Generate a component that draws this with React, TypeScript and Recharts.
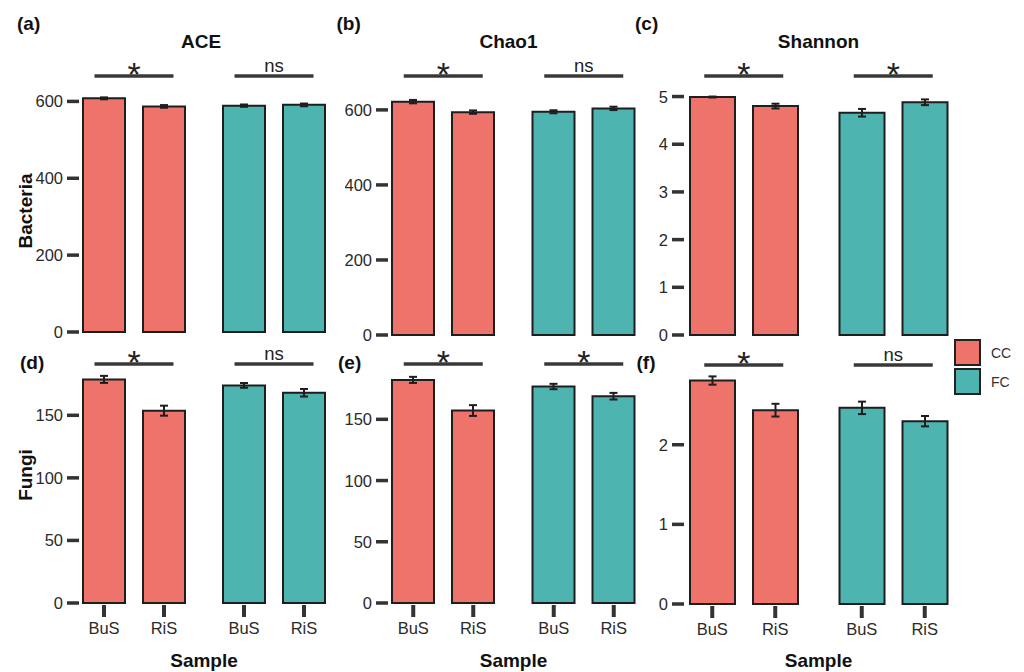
import { Bar, BarChart, Cell, ErrorBar, Legend, XAxis, YAxis } from "recharts";

const groups = ["CC", "FC"];
const samples = ["BuS", "RiS"];
const groupColors = ["#EE736B", "#4DB4B0"];

// value order in every list: CC-BuS, CC-RiS, FC-BuS, FC-RiS
const bacAceMean = [608, 587, 589, 591];
const bacAceSe = [2.5, 3.5, 3, 3.5];
const bacChaoMean = [622, 594, 595, 604];
const bacChaoSe = [4.5, 4.5, 4, 4.5];
const bacShannonMean = [4.99, 4.8, 4.66, 4.88];
const bacShannonSe = [0.01, 0.05, 0.08, 0.06];
const fungiAceMean = [178.7, 153.7, 173.9, 168];
const fungiAceSe = [2.8, 4, 1.9, 3];
const fungiChaoMean = [182.2, 157.2, 176.8, 168.9];
const fungiChaoSe = [2.5, 4.4, 2.2, 2.7];
const fungiShannonMean = [2.806, 2.434, 2.463, 2.296];
const fungiShannonSe = [0.052, 0.08, 0.078, 0.065];

// significance of BuS vs RiS within CC and FC
const bacAceSig = ["*", "ns"];
const bacChaoSig = ["*", "ns"];
const bacShannonSig = ["*", "*"];
const fungiAceSig = ["*", "ns"];
const fungiChaoSig = ["*", "*"];
const fungiShannonSig = ["*", "ns"];

const richBacTicks = [0, 200, 400, 600];
const shannonBacTicks = [0, 1, 2, 3, 4, 5];
const richFungiTicks = [0, 50, 100, 150];
const shannonFungiTicks = [0, 1, 2];

const FONT = '"Liberation Sans", Arial, sans-serif';
const INK = "#2a2a2a";
const BAR_GAP = 18;

function buildRows(mean: number[], se: number[]) {
	return groups.map((g, gi) => {
		const row: Record<string, number | string> = { group: g };
		samples.forEach((s, si) => {
			row[s] = mean[gi * 2 + si];
			row[`${s}Err`] = se[gi * 2 + si];
		});
		return row;
	});
}

function YTick({ x, y, payload }: any) {
	return (
		<g>
			<line x1={x + 3} x2={x + 15} y1={y} y2={y} stroke="#333" strokeWidth={3.5} />
			<text x={x - 1} y={y} dy={6} textAnchor="end" fontSize={16.5} fill={INK}>
				{payload.value}
			</text>
		</g>
	);
}

function SampleTick({ x, y, barSize }: any) {
	const step = barSize + BAR_GAP;
	return (
		<g>
			{samples.map((s, i) => {
				const cx = x + (i - 0.5) * step;
				return (
					<g key={s}>
						<line x1={cx} x2={cx} y1={y + 2} y2={y + 14} stroke="#333" strokeWidth={4} />
						<text x={cx} y={y + 31} textAnchor="middle" fontSize={16.5} fill={INK}>
							{s}
						</text>
					</g>
				);
			})}
		</g>
	);
}

function SigTick({ x, y, payload, sig }: any) {
	const label = sig[groups.indexOf(payload.value)];
	const lineY = y - 11;
	return (
		<g>
			<line x1={x - 39.5} x2={x + 39.5} y1={lineY} y2={lineY} stroke="#383838" strokeWidth={3.5} />
			{label === "*" ? (
				<text x={x} y={lineY + 10} textAnchor="middle" fontSize={34} fill="#222">
					*
				</text>
			) : (
				<text x={x} y={lineY - 4} textAnchor="middle" fontSize={18.5} fill="#222">
					{label}
				</text>
			)}
		</g>
	);
}

function LegendBoxes() {
	return (
		<div style={{ display: "flex", flexDirection: "column", gap: 2, fontFamily: FONT }}>
			{groups.map((g, i) => (
				<div key={g} style={{ display: "flex", alignItems: "center" }}>
					<div
						style={{
							width: 23,
							height: 23,
							background: groupColors[i],
							border: "2px solid #222",
						}}
					/>
					<span style={{ marginLeft: 10, fontSize: 14, color: "#333" }}>{g}</span>
				</div>
			))}
		</div>
	);
}

interface PanelProps {
	mean: number[];
	se: number[];
	sig: string[];
	ticks: number[];
	domainMax: number;
	title?: string;
	titleDx?: number;
	left: number;
	top: number;
	width: number;
	height: number;
	yAxisWidth: number;
	topAxisHeight: number;
	bottomAxisHeight: number;
	marginRight: number;
	marginBottom: number;
	barSize: number;
	showSamples?: boolean;
	showLegend?: boolean;
}

function Panel(p: PanelProps) {
	const rows = buildRows(p.mean, p.se);
	return (
		<div style={{ position: "absolute", left: p.left, top: p.top }}>
			<BarChart
				width={p.width}
				height={p.height}
				data={rows}
				barGap={BAR_GAP}
				margin={{ top: 0, right: p.marginRight, bottom: p.marginBottom, left: 0 }}
			>
				<XAxis
					xAxisId="sig"
					dataKey="group"
					orientation="top"
					height={p.topAxisHeight}
					axisLine={false}
					tickLine={false}
					tickSize={0}
					tickMargin={0}
					interval={0}
					tick={(t: any) => <SigTick {...t} sig={p.sig} />}
					label={
						p.title
							? {
									value: p.title,
									position: "insideTop",
									offset: 35,
									dx: p.titleDx ?? 0,
									fontSize: 19,
									fontWeight: "bold",
									fill: "#111",
								}
							: undefined
					}
				/>
				<XAxis
					dataKey="group"
					hide={!p.showSamples}
					height={p.bottomAxisHeight}
					axisLine={false}
					tickLine={false}
					tickSize={0}
					tickMargin={0}
					interval={0}
					tick={(t: any) => <SampleTick {...t} barSize={p.barSize} />}
					label={{
						value: "Sample",
						position: "insideBottom",
						offset: 5,
						fontSize: 19,
						fontWeight: "bold",
						fill: "#111",
					}}
				/>
				<YAxis
					width={p.yAxisWidth}
					domain={[0, p.domainMax]}
					ticks={p.ticks}
					interval={0}
					axisLine={false}
					tickLine={false}
					tickSize={0}
					tickMargin={0}
					tick={(t: any) => <YTick {...t} />}
				/>
				{samples.map((s) => (
					<Bar
						key={s}
						dataKey={s}
						barSize={p.barSize}
						stroke="#1e1e1e"
						strokeWidth={2}
						isAnimationActive={false}
					>
						{rows.map((r, i) => (
							<Cell key={String(r.group)} fill={groupColors[i]} />
						))}
						<ErrorBar
							dataKey={`${s}Err`}
							width={4}
							stroke="#1e1e1e"
							strokeWidth={2}
							isAnimationActive={false}
						/>
					</Bar>
				))}
				{p.showLegend && (
					<Legend
						layout="vertical"
						align="center"
						verticalAlign="middle"
						wrapperStyle={{ left: 299, top: -1, width: "auto" }}
						content={() => <LegendBoxes />}
					/>
				)}
			</BarChart>
		</div>
	);
}

const tags = [
	{ t: "(a)", x: 17, y: 29.5 },
	{ t: "(b)", x: 336.5, y: 29.5 },
	{ t: "(c)", x: 635, y: 29.5 },
	{ t: "(d)", x: 20, y: 368.5 },
	{ t: "(e)", x: 338, y: 368.5 },
	{ t: "(f)", x: 636.5, y: 368.5 },
];

export default function App() {
	const row1 = { top: 0, height: 346, topAxisHeight: 87, bottomAxisHeight: 0 };
	const row2 = { top: 340, height: 332, topAxisHeight: 35, bottomAxisHeight: 69, marginBottom: 0 };
	const col1 = { left: 0, width: 350, yAxisWidth: 64, marginRight: 6, barSize: 42 };
	const col2 = { left: 345, width: 315, yAxisWidth: 28, marginRight: 6, barSize: 42 };
	const col3 = { left: 655, width: 369, yAxisWidth: 14, marginRight: 56, barSize: 45 };

	return (
		<div
			style={{
				position: "absolute",
				left: 0,
				top: 0,
				width: 1024,
				height: 672,
				background: "#fff",
				fontFamily: FONT,
				overflow: "hidden",
			}}
		>
			<Panel {...row1} {...col1} marginBottom={14} mean={bacAceMean} se={bacAceSe} sig={bacAceSig} ticks={richBacTicks} domainMax={637.5} title="ACE" titleDx={-3} />
			<Panel {...row1} {...col2} marginBottom={11} mean={bacChaoMean} se={bacChaoSe} sig={bacChaoSig} ticks={richBacTicks} domainMax={661} title="Chao1" titleDx={-5} />
			<Panel {...row1} {...col3} marginBottom={11} mean={bacShannonMean} se={bacShannonSe} sig={bacShannonSig} ticks={shannonBacTicks} domainMax={5.2} title="Shannon" />
			<Panel {...row2} {...col1} mean={fungiAceMean} se={fungiAceSe} sig={fungiAceSig} ticks={richFungiTicks} domainMax={182.2} showSamples />
			<Panel {...row2} {...col2} mean={fungiChaoMean} se={fungiChaoSe} sig={fungiChaoSig} ticks={richFungiTicks} domainMax={186.2} showSamples />
			<Panel {...row2} {...col3} topAxisHeight={36} bottomAxisHeight={68} mean={fungiShannonMean} se={fungiShannonSe} sig={fungiShannonSig} ticks={shannonFungiTicks} domainMax={2.863} showSamples showLegend />
			<svg
				width={1024}
				height={672}
				style={{ position: "absolute", left: 0, top: 0, pointerEvents: "none" }}
			>
				{tags.map((d) => (
					<text key={d.t} x={d.x} y={d.y} fontSize={19} fontWeight="bold" fill="#111">
						{d.t}
					</text>
				))}
				<text transform="translate(32, 211) rotate(-90)" textAnchor="middle" fontSize={19} fontWeight="bold" fill="#111">
					Bacteria
				</text>
				<text transform="translate(32, 475) rotate(-90)" textAnchor="middle" fontSize={19} fontWeight="bold" fill="#111">
					Fungi
				</text>
			</svg>
		</div>
	);
}
